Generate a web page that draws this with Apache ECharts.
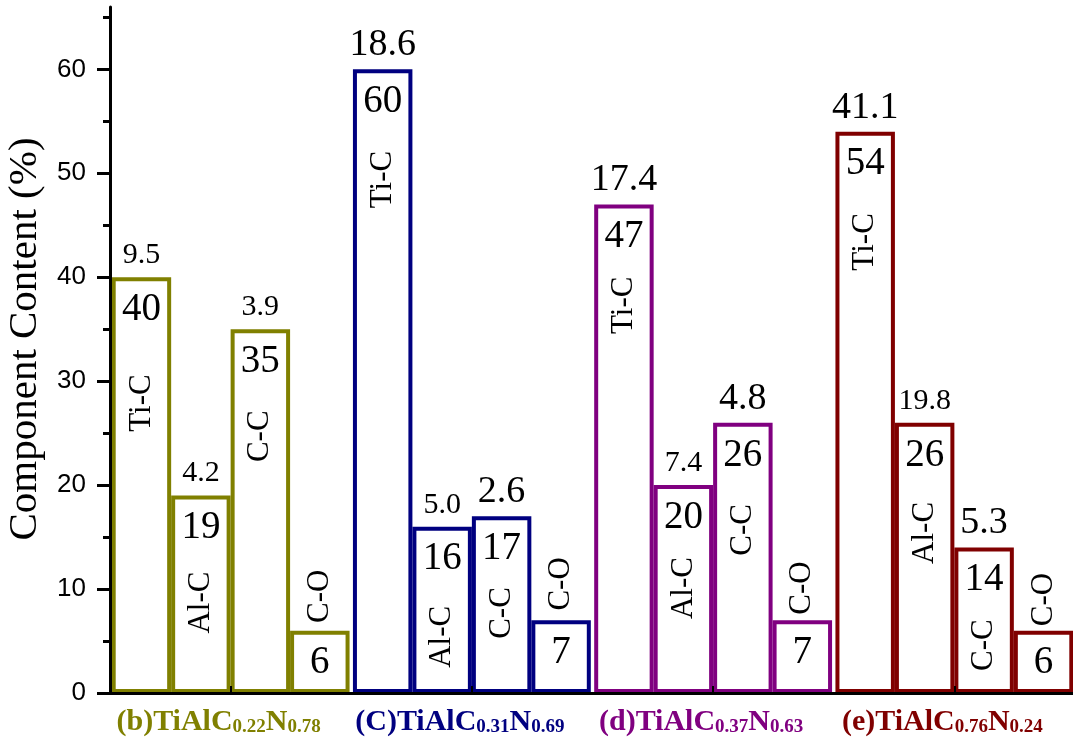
<!DOCTYPE html>
<html>
<head>
<meta charset="utf-8">
<script src="https://cdn.jsdelivr.net/npm/echarts@6/dist/echarts.min.js"></script>
<style>
  html, body { margin: 0; padding: 0; background: #ffffff; }
  #chart { width: 1073px; height: 740px; }
</style>
</head>
<body>
<div id="chart"></div>
<script>
// Samples along the x axis: TiAlC(x)N(y)
const sampleTags   = ['(b)', '(C)', '(d)', '(e)'];
const carbonIdx    = ['0.22', '0.31', '0.37', '0.76'];
const nitrogenIdx  = ['0.78', '0.69', '0.63', '0.24'];
const sampleColors = ['#808000', '#000080', '#800080', '#800000'];

// Bond components (one bar per component in each sample)
const bonds = ['Ti-C', 'Al-C', 'C-C', 'C-O'];

// Component content (%) per sample
const tiC = [40, 60, 47, 54];
const alC = [19, 16, 20, 26];
const cC  = [35, 17, 26, 14];
const cO  = [6, 7, 7, 6];

// Figures printed above the bars
const tiCTop = ['9.5', '18.6', '17.4', '41.1'];
const alCTop = ['4.2', '5.0', '7.4', '19.8'];
const cCTop  = ['3.9', '2.6', '4.8', '5.3'];
const cOTop  = ['', '', '', ''];

// y axis ticks
const yMajorTicks = [0, 10, 20, 30, 40, 50, 60];
const yMinorTicks = [5, 15, 25, 35, 45, 55, 65];

// ---- layout / style ----
const valuesByBond = [tiC, alC, cC, cO];
const topByBond = [tiCTop, alCTop, cCTop, cOTop];
// vertical centre of the rotated bond name, in axis units
const nameCenter = [
  [27.9, 49.4, 37.3, 43.4],
  [8.7, 5.4, 10.1, 15.4],
  [24.7, 7.7, 15.7, 4.6],
  [9.3, 10.5, 10.1, 9.0]
];
// font size of the figure above each bar
const topSize = [
  [30, 38, 38, 38],
  [30, 30, 30, 30],
  [30, 38, 38, 38],
  [30, 30, 30, 30]
];
const BAR_W = 0.2465; // bar width, fraction of category band
const SERIF = "'Liberation Serif', 'Times New Roman', serif";
const SANS = "'Liberation Sans', Arial, sans-serif";

const sampleNames = sampleTags.map((t, i) => t + 'TiAlC' + carbonIdx[i] + 'N' + nitrogenIdx[i]);

const rich = {};
sampleColors.forEach((c, i) => {
  rich['m' + i] = { color: c, fontFamily: SERIF, fontWeight: 'bold', fontSize: 30, lineHeight: 32, verticalAlign: 'bottom' };
  rich['s' + i] = { color: c, fontFamily: SERIF, fontWeight: 'bold', fontSize: 19, lineHeight: 23, verticalAlign: 'bottom' };
});

const barSeries = bonds.map((b, bi) => ({
  type: 'bar',
  name: b,
  data: valuesByBond[bi].map((v, gi) => ({
    value: v,
    itemStyle: { color: '#ffffff', borderColor: sampleColors[gi], borderWidth: 4 }
  })),
  barWidth: (BAR_W * 100) + '%',
  barGap: '0%',
  label: {
    show: true,
    position: 'insideTop',
    distance: 13,
    fontFamily: SERIF,
    fontSize: 39,
    color: '#000'
  },
  silent: true,
  z: 2
}));

const annotData = [];
for (let g = 0; g < 4; g++) {
  for (let b = 0; b < 4; b++) annotData.push([g, valuesByBond[b][g], b]);
}

const annotSeries = {
  type: 'custom',
  data: annotData,
  encode: { x: 0, y: 1 },
  silent: true,
  z: 4,
  renderItem: function (params, api) {
    const g = api.value(0), v = api.value(1), b = api.value(2);
    const band = api.size([1, 0])[0];
    const w = band * BAR_W;
    const cx = api.coord([g, 0])[0] - 2 * w + (b + 0.5) * w;
    const topY = api.coord([g, v])[1];
    const children = [];
    const t = topByBond[b][g];
    if (t) {
      const fs = topSize[b][g];
      children.push({
        type: 'text', x: cx, y: topY - (fs > 34 ? 5 : 7),
        style: { text: t, fontFamily: SERIF, fontSize: fs, fill: '#000', align: 'center', verticalAlign: 'bottom' }
      });
    }
    children.push({
      type: 'text', x: cx, y: api.coord([g, nameCenter[b][g]])[1], rotation: Math.PI / 2,
      style: { text: bonds[b], fontFamily: SERIF, fontSize: 31, fill: '#000', align: 'center', verticalAlign: 'middle' }
    });
    return { type: 'group', children: children };
  }
};

const chart = echarts.init(document.getElementById('chart'), null, { renderer: 'canvas' });
chart.setOption({
  animation: false,
  backgroundColor: '#ffffff',
  grid: { left: 110, right: -2, top: 7, bottom: 47, containLabel: false, outerBoundsMode: 'none' },
  xAxis: [
    {
      type: 'category',
      data: sampleNames,
      position: 'bottom',
      z: 5,
      axisLine: { lineStyle: { color: '#000', width: 3 } },
      axisTick: { show: true, inside: true, alignWithLabel: true, length: 7, lineStyle: { color: '#000', width: 2 } },
      axisLabel: {
        interval: 0,
        margin: 12,
        padding: [0, 24, 0, 0],
        formatter: function (val, idx) {
          return '{m' + idx + '|' + sampleTags[idx] + 'TiAlC}{s' + idx + '|' + carbonIdx[idx] +
                 '}{m' + idx + '|N}{s' + idx + '|' + nitrogenIdx[idx] + '}';
        },
        rich: rich
      },
      splitLine: { show: false }
    },
    {
      type: 'category',
      data: sampleNames,
      position: 'top',
      z: 5,
      axisLine: { lineStyle: { color: '#000', width: 3 } },
      axisTick: { show: false },
      axisLabel: { show: false },
      splitLine: { show: false }
    }
  ],
  yAxis: [
    {
      type: 'value',
      position: 'left',
      min: 0,
      max: 66,
      interval: 10,
      z: 5,
      name: 'Component Content (%)',
      nameLocation: 'middle',
      nameGap: 60,
      nameTextStyle: { fontFamily: SERIF, fontSize: 41, color: '#000', padding: [0, 0, 0, 22] },
      axisLine: { show: true, lineStyle: { color: '#000', width: 3 } },
      axisTick: { show: true, length: 13, customValues: yMajorTicks, lineStyle: { color: '#000', width: 3 } },
      axisLabel: {
        show: true,
        showMaxLabel: false,
        margin: 24,
        fontFamily: SANS,
        fontSize: 26,
        color: '#000',
        formatter: function (v) { return yMajorTicks.indexOf(v) >= 0 ? String(v) : ''; }
      },
      splitLine: { show: false }
    },
    {
      type: 'value',
      position: 'left',
      min: 0,
      max: 66,
      z: 5,
      axisLine: { show: false },
      axisTick: { show: true, length: 7, customValues: yMinorTicks, lineStyle: { color: '#000', width: 3 } },
      axisLabel: { show: false },
      splitLine: { show: false }
    }
  ],
  series: barSeries.concat([annotSeries])
});
</script>
</body>
</html>
